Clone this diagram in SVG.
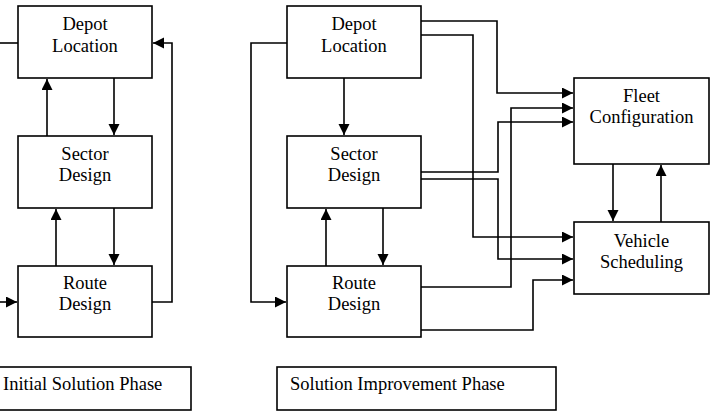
<svg xmlns="http://www.w3.org/2000/svg" width="714" height="414" viewBox="0 0 714 414">
<defs>
<marker id="ah" markerUnits="userSpaceOnUse" markerWidth="12" markerHeight="12" refX="11" refY="5.5" orient="auto">
<path d="M0,0 L11,5.5 L0,11 z" fill="#000"/>
</marker>
<style>
.box{fill:#fff;stroke:#000;stroke-width:1.6}
.t{font-family:'Liberation Serif','Times New Roman',serif;font-size:18.5px;fill:#000;text-anchor:middle}
.tl{font-family:'Liberation Serif','Times New Roman',serif;font-size:18.5px;fill:#000}
.c{fill:none;stroke:#000;stroke-width:1.6}
.a{fill:none;stroke:#000;stroke-width:1.6;marker-end:url(#ah)}
</style>
</defs>
<rect width="714" height="414" fill="#fff"/>
<g id="connectors">
<path class="c" d="M0,43 H18"/>
<path class="a" d="M152,302 H172 V43 H153"/>
<path class="a" d="M47,136 V79"/>
<path class="a" d="M114,78 V135"/>
<path class="a" d="M56,266 V209"/>
<path class="a" d="M114,208 V265"/>
<path class="a" d="M0,302 H17"/>
<path class="a" d="M287,43 H251 V302 H286"/>
<path class="a" d="M344,78 V135"/>
<path class="a" d="M326,266 V209"/>
<path class="a" d="M383,208 V265"/>
<path class="a" d="M421,21 H497 V93 H573"/>
<path class="a" d="M421,35 H473 V237 H573"/>
<path class="a" d="M421,172 H498 V122 H573"/>
<path class="a" d="M421,179 H498 V259 H573"/>
<path class="a" d="M421,287 H511 V108 H573"/>
<path class="a" d="M421,330 H533 V280 H573"/>
<path class="a" d="M613,164 V221"/>
<path class="a" d="M661,222 V165"/>
</g>
<g id="depot1"><rect class="box" x="18" y="6" width="134" height="72"/><text class="t" x="85" y="30">Depot</text><text class="t" x="85" y="52">Location</text></g>
<g id="sector1"><rect class="box" x="18" y="136" width="134" height="72"/><text class="t" x="85" y="160">Sector</text><text class="t" x="85" y="181">Design</text></g>
<g id="route1"><rect class="box" x="18" y="266" width="134" height="71"/><text class="t" x="85" y="289">Route</text><text class="t" x="85" y="310">Design</text></g>
<g id="phase1"><rect class="box" x="-2" y="367" width="193" height="43"/><text class="tl" x="3" y="390">Initial Solution Phase</text></g>
<g id="depot2"><rect class="box" x="287" y="6" width="134" height="72"/><text class="t" x="354" y="30">Depot</text><text class="t" x="354" y="52">Location</text></g>
<g id="sector2"><rect class="box" x="287" y="136" width="134" height="72"/><text class="t" x="354" y="160">Sector</text><text class="t" x="354" y="181">Design</text></g>
<g id="route2"><rect class="box" x="287" y="266" width="134" height="71"/><text class="t" x="354" y="289">Route</text><text class="t" x="354" y="310">Design</text></g>
<g id="fleet"><rect class="box" x="574" y="78" width="135" height="86"/><text class="t" x="641.5" y="102">Fleet</text><text class="t" x="641.5" y="123">Configuration</text></g>
<g id="vehicle"><rect class="box" x="574" y="222" width="135" height="72"/><text class="t" x="641.5" y="247">Vehicle</text><text class="t" x="641.5" y="268">Scheduling</text></g>
<g id="phase2"><rect class="box" x="277" y="367" width="279" height="43"/><text class="tl" x="290" y="390">Solution Improvement Phase</text></g>
</svg>
